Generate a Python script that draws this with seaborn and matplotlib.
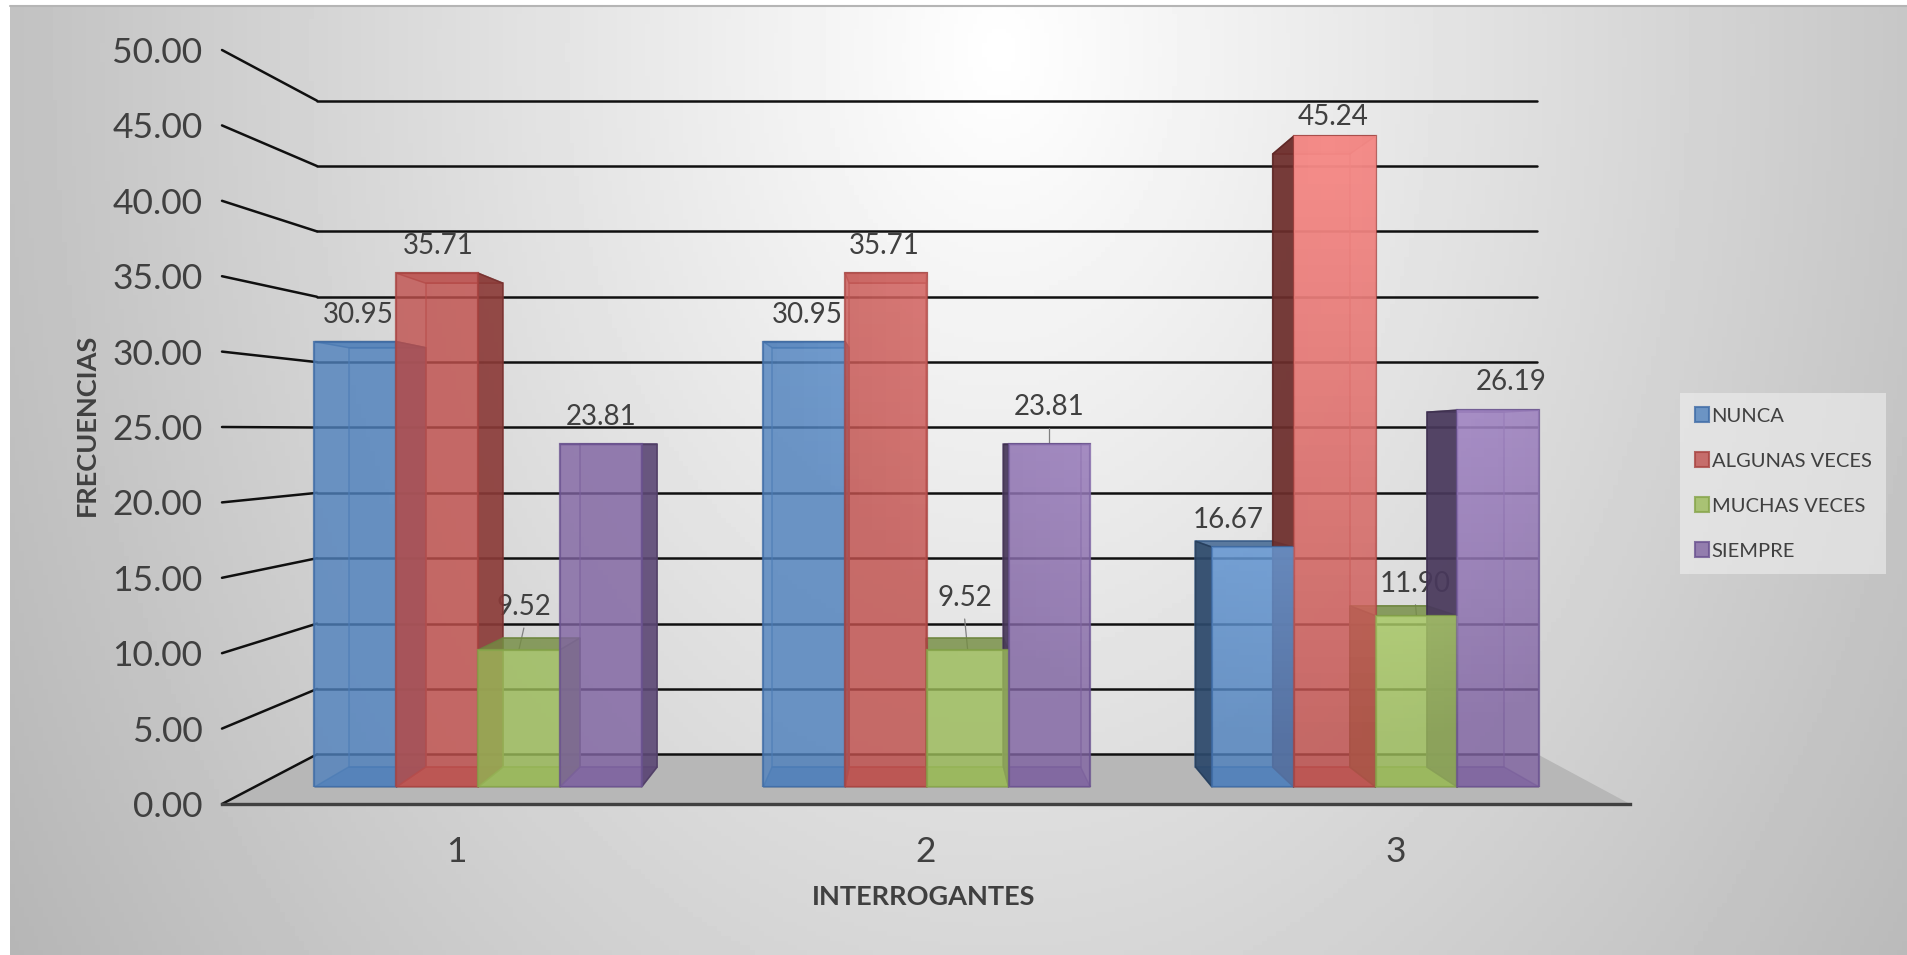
import numpy as np
import pandas as pd
import matplotlib
matplotlib.use('Agg')
import matplotlib.pyplot as plt
from matplotlib.colors import to_rgb
from matplotlib.patches import Polygon
import seaborn as sns

# valores
interrogantes = ['1', '2', '3']
series = ['NUNCA', 'ALGUNAS VECES', 'MUCHAS VECES', 'SIEMPRE']
nunca = [30.95, 30.95, 16.67]
algunas = [35.71, 35.71, 45.24]
muchas = [9.52, 9.52, 11.90]
siempre = [23.81, 23.81, 26.19]
y_ticks = [0, 5, 10, 15, 20, 25, 30, 35, 40, 45, 50]

colores = ['#4F81BD', '#C0504D', '#9BBB59', '#8064A2']
bordes = ['#3f6ca6', '#a84441', '#86a44a', '#6a5290']

W, H = 1907, 955
VP = (918.0, 445.0)   # punto de fuga de la perspectiva
KX, KY = 0.9436, 0.9416

df = pd.DataFrame({
    'pregunta': interrogantes * 4,
    'serie': sum([[s] * 3 for s in series], []),
    'valor': nunca + algunas + muchas + siempre,
})

sns.set_theme(style='white')
plt.rcParams['font.family'] = ['Lato', 'DejaVu Sans']
TXT = '#404040'


def box(x0, y_top, x1, y_bot):
    return [x0 / W, 1 - y_bot / H, (x1 - x0) / W, (y_bot - y_top) / H]


fig = plt.figure(figsize=(W / 100, H / 100), dpi=100, facecolor='white')

# fondo con degradado y piso
bg = fig.add_axes([0, 0, 1, 1], zorder=0)
yy, xx = np.mgrid[6:H:200j, 10:W:400j]
d = np.sqrt(((xx - 1000) / 1000) ** 2 + ((yy - 50) / 1400) ** 2)
bg.imshow(255 - 62 * d, cmap='gray', vmin=0, vmax=255, extent=(10, W, H, 6), aspect='auto')
bg.add_patch(Polygon([(222, 804), (317, 754), (1537, 754), (1630, 804)], closed=True, fc='#b7b7b7', ec='none'))
bg.plot([10, W], [6, 6], color='#b5b5b5', lw=1.5)
bg.set_xlim(0, W)
bg.set_ylim(H, 0)
bg.axis('off')

# pared del fondo con las lineas de division
wall = fig.add_axes(box(317, 100.7, 1537, 754.3), zorder=1)
wall.patch.set_alpha(0)
wall.set_ylim(0, 50)
wall.set_xlim(0, 1)
wall.set_yticks(y_ticks)
wall.set_xticks([])
wall.tick_params(left=False, labelleft=False)
wall.grid(axis='y', color='#101010', lw=1.8)
for gl in wall.get_ygridlines():
    gl.set_clip_on(False)
sns.despine(ax=wall, left=True, bottom=True)

# capa de caras laterales y etiquetas
mid = fig.add_axes([0, 0, 1, 1], zorder=2)
mid.patch.set_alpha(0)
mid.set_xlim(0, W)
mid.set_ylim(H, 0)
mid.axis('off')

# eje frontal: etiquetas de los ejes
front = fig.add_axes(box(222, 50, 1630, 804), zorder=2.5)
front.patch.set_alpha(0)
front.set_xlim(-0.5, 2.5)
front.set_ylim(0, 50)
front.set_yticks(y_ticks)
front.set_yticklabels([f'{v:.2f}' for v in y_ticks])
front.set_xticks(range(3))
front.set_xticklabels(interrogantes)
front.tick_params(axis='y', length=0, pad=14, labelsize=25.5, labelcolor=TXT)
front.tick_params(axis='x', length=0, pad=23, labelsize=25.5, labelcolor=TXT)
front.set_ylabel('FRECUENCIAS', fontsize=19.5, fontweight='bold', color=TXT, va='center')
front.yaxis.set_label_coords((87 - 222) / 1408, 0.503)
front.set_xlabel('INTERROGANTES', fontsize=19.5, fontweight='bold', color=TXT, va='center')
front.xaxis.set_label_coords(0.4986, (804 - 897) / 754)
sns.despine(ax=front, left=True)
front.spines['bottom'].set_color('#404040')
front.spines['bottom'].set_linewidth(2.4)

# barras
ax = fig.add_axes(box(253.6, 67.5, 1600, 787), zorder=3)
sns.barplot(data=df, x='pregunta', y='valor', hue='serie', hue_order=series, order=interrogantes,
            palette=colores, width=0.7287, gap=0, errorbar=None, alpha=0.8, saturation=1, ax=ax)
ax.set_xlim(-0.5, 2.5)
ax.set_ylim(0, 50)
ax.set_axis_off()


def a_px(axes, x, y):
    dx, dy = axes.transData.transform((x, y))
    return dx, H - dy


def fondo(p):
    return (VP[0] + KX * (p[0] - VP[0]), VP[1] + KY * (p[1] - VP[1]))


# lineas diagonales de la pared lateral
for v in y_ticks:
    mid.plot(*zip(a_px(front, -0.5, v), a_px(wall, 0, v)), color='#101010', lw=1.8, zorder=1)

# etiquetas: desplazamiento en pixeles respecto al centro superior de cada barra
off_x = [[3, 3, -25], [1, -2, -2], [5, -3, -1], [0, 0, 13]]
off_y = [[-27, -27, -27], [-27, -27, -19], [-43, -52, -32], [-27, -37, -28]]
con_guia = [[0, 0, 0], [0, 0, 0], [1, 1, 1], [0, 1, 0]]
centro_x = ax.transData.inverted().transform((VP[0], 0))[0]

for i, cont in enumerate(ax.containers):
    base_col = np.array(to_rgb(colores[i]))
    for j, bar in enumerate(cont):
        x0, x1 = bar.get_x(), bar.get_x() + bar.get_width()
        val = bar.get_height()
        tl, tr = a_px(ax, x0, val), a_px(ax, x1, val)
        bl, br = a_px(ax, x0, 0), a_px(ax, x1, 0)
        btl, btr, bbl, bbr = fondo(tl), fondo(tr), fondo(bl), fondo(br)
        bar.set_edgecolor(bordes[i])
        bar.set_linewidth(1.6)

        # etiqueta de datos (detras de las caras laterales)
        cx = (tl[0] + tr[0]) / 2
        lx, ly = cx + off_x[i][j], tl[1] + off_y[i][j]
        mid.text(lx, ly, f'{val:.2f}', ha='center', va='center', fontsize=20, color=TXT, zorder=2)
        if con_guia[i][j]:
            mid.plot([lx, cx], [ly + 21, tl[1]], color='#808080', lw=0.9, zorder=2)

        # caras ocultas
        cara = dict(closed=True, lw=1.1, zorder=3)
        mid.add_patch(Polygon([btl, btr, bbr, bbl], fc=(*base_col, 0.1), ec=(*base_col * 0.8, 0.7), **cara))
        mid.add_patch(Polygon([bl, br, bbr, bbl], fc=(*base_col * 0.9, 0.6), ec=(*base_col * 0.8, 0.7), **cara))
        tapa = 0.8 if tl[1] > VP[1] else 0.45
        mid.add_patch(Polygon([tl, tr, btr, btl], fc=(*base_col * 0.75, tapa), ec=(*base_col * 0.7, 0.8), **cara))
        if x1 < centro_x:
            mid.add_patch(Polygon([tr, btr, bbr, br], fc=(*base_col * 0.72, 0.9), ec=(*base_col * 0.6, 0.8), **cara))
        if x0 > centro_x:
            mid.add_patch(Polygon([tl, btl, bbl, bl], fc=(*base_col * 0.56, 0.92), ec=(*base_col * 0.45, 0.8), **cara))

        # brillo en la zona superior derecha del grafico
        ys = np.linspace(0, val, 40)
        xs = np.linspace(x0, x1, 6)
        gx, gy = np.meshgrid(xs, ys)
        pts = ax.transData.transform(np.c_[gx.ravel(), gy.ravel()]).reshape(40, 6, 2)
        dist = np.hypot(pts[..., 0] - 1330, (H - pts[..., 1]) - 130)
        alfa = np.clip(1 - dist / 620, 0, 1) * 0.85
        luz = np.minimum(base_col + 0.27, 1)
        img = np.dstack([np.full(alfa.shape, c) for c in luz] + [alfa])
        im = ax.imshow(img, extent=(x0, x1, 0, val), origin='lower', aspect='auto', zorder=bar.get_zorder() + 0.1)
        im.set_clip_path(bar)

ax.set_xlim(-0.5, 2.5)
ax.set_ylim(0, 50)

# leyenda
leg = ax.legend(loc='upper left', bbox_to_anchor=(1680 / W, 1 - 393 / H), bbox_transform=fig.transFigure,
                borderaxespad=0, frameon=True, fontsize=14.5, title=None, ncol=1, labelspacing=1.37, borderpad=0.72,
                handlelength=0.7, handleheight=0.75, handletextpad=0.15, fancybox=False, labelcolor=TXT)
leg.get_frame().set_facecolor('#efefef')
leg.get_frame().set_alpha(0.6)
leg.get_frame().set_edgecolor('none')
for h, b in zip(leg.get_patches(), bordes):
    h.set_edgecolor(b)
    h.set_linewidth(1.5)

fig.savefig('out.png', dpi=100)
